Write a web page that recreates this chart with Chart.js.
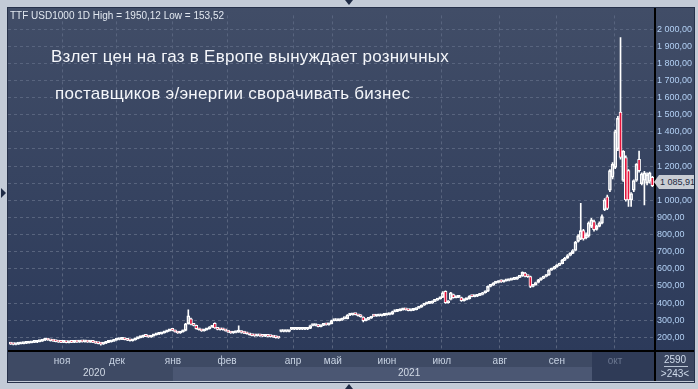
<!DOCTYPE html>
<html><head><meta charset="utf-8">
<script src="https://cdn.jsdelivr.net/npm/chart.js@4.4.1/dist/chart.umd.min.js"></script>
<style>
html,body{margin:0;padding:0;}
body{width:698px;height:389px;background:#c3cbd7;position:relative;overflow:hidden;font-family:"Liberation Sans",Arial,sans-serif;}
#frame{position:absolute;left:7px;top:7px;width:686px;height:374px;border:1px solid #26314a;}
#wrap{position:absolute;left:8px;top:8px;width:686px;height:373px;}
.t{position:absolute;white-space:pre;}
#hdr{left:10px;top:10px;font-size:10px;color:#e2e8f0;}
.title{left:51px;font-size:17px;color:#f4f6fa;letter-spacing:0.25px;}
.year{top:367px;font-size:10px;color:#d2dae6;}
#cnt{left:656px;top:354px;width:38px;text-align:center;font-size:10px;color:#d0dcec;}
#cnt2{left:656px;top:368px;width:38px;text-align:center;font-size:10px;color:#d0dcec;}
#uline{position:absolute;left:664px;top:366px;width:24px;height:1px;background:#b8c4d4;}
#plab{position:absolute;left:659px;top:175px;width:35px;height:14px;background:#c9cdd4;font-size:9px;color:#1d2a40;line-height:14px;text-align:left;padding-left:1px;box-sizing:border-box;overflow:hidden;}
#parr{position:absolute;left:654px;top:175px;width:0;height:0;border-top:7px solid transparent;border-bottom:7px solid transparent;border-right:5px solid #c9cdd4;}
.tri{position:absolute;width:0;height:0;}
</style></head>
<body>
<div id="frame"></div>
<div id="wrap"><canvas id="c" width="686" height="373"></canvas></div>
<div class="t" id="hdr">TTF USD1000 1D High = 1950,12 Low = 153,52</div>
<div class="t title" style="top:47px">Взлет цен на газ в Европе вынуждает розничных</div>
<div class="t title" style="top:84px;left:50px"> поставщиков э/энергии сворачивать бизнес</div>
<div class="t year" style="left:83px">2020</div>
<div class="t year" style="left:398px">2021</div>
<div class="t" id="cnt">2590</div>
<div id="uline"></div>
<div class="t" id="cnt2">&gt;243&lt;</div>
<div id="parr"></div>
<div class="t" id="plab">1 085,91</div>
<div class="tri" style="left:345px;top:0;border-left:4px solid transparent;border-right:4px solid transparent;border-top:5px solid #1f2b45;"></div>
<div class="tri" style="left:345px;top:384px;border-left:4px solid transparent;border-right:4px solid transparent;border-bottom:5px solid #1f2b45;"></div>
<div class="tri" style="left:1px;top:188px;border-top:5px solid transparent;border-bottom:5px solid transparent;border-left:5px solid #1f2b45;"></div>
<script>
// ---- data ----
const monthTicks = [19.4, 40.1, 61.2, 81.6, 106.5, 121.5, 141.9, 162.6, 184.5, 206.0, 227.9];
const monthLabels = ["ноя","дек","янв","фев","апр","май","июн","июл","авг","сен","окт"];
const priceTicks = [200,300,400,500,600,700,800,900,1000,1100,1200,1300,1400,1500,1600,1700,1800,1900,2000];

const opens = [
162,160,158,160,162,163,165,166,168,170,
171,175,178,183,187,184,180,178,175,172,
170,171,169,172,170,173,172,174,173,175,
172,174,170,166,163,160,165,170,174,178,
184,187,188,190,186,183,180,185,192,198,
202,210,205,202,208,215,218,221,226,232,
238,244,240,232,225,232,240,280,308,275,
270,250,244,238,244,250,259,282,255,246,
246,244,238,230,225,228,230,236,228,224,
221,215,210,208,210,208,206,208,205,204,
202,198,234,234,234,234,247,247,247,247,
247,247,247,252,269,269,272,262,270,275,
273,280,297,297,297,300,309,309,330,331,
335,332,330,318,297,305,312,328,324,326,
326,328,331,333,335,350,352,356,360,362,
360,356,358,362,370,377,388,396,398,400,
410,417,425,434,469,402,421,450,432,434,
432,414,420,425,440,438,440,445,450,460,
469,497,505,516,520,532,524,530,532,535,
538,540,550,558,575,556,554,497,506,520,
535,545,555,564,592,600,611,620,630,650,
662,678,690,707,760,775,823,780,792,848,
876,830,848,867,945,1021,1059,1135,1192,1300,
1516,1116,1250,1173,1002,1059,1116,1240,1097,1116,
1100,1110,1135];
const highs = [
164,162,162,164,165,167,168,170,172,173,
177,180,185,189,189,186,182,180,177,174,
173,173,174,174,175,175,176,176,177,177,
176,176,172,168,165,167,172,176,180,186,
189,190,193,192,188,185,187,194,200,205,
213,212,207,210,217,220,224,228,234,240,
247,246,242,234,234,242,282,360,312,280,
272,252,246,246,252,262,265,285,258,248,
248,246,240,232,230,232,267,238,230,226,
223,217,212,212,212,210,210,210,207,206,
204,200,236,236,236,236,249,249,249,249,
249,249,254,271,271,271,275,272,278,277,
283,300,300,300,303,312,312,333,334,338,
338,334,332,320,308,315,320,330,328,329,
330,334,336,338,353,355,359,363,366,364,
362,360,365,372,380,390,399,401,403,413,
420,428,437,467,472,415,462,453,437,441,
435,423,428,443,442,443,448,453,463,472,
500,508,520,524,530,535,528,534,536,540,
542,553,562,583,580,560,558,510,523,538,
548,558,567,596,604,615,624,634,655,667,
683,695,712,760,800,983,830,810,875,895,
885,855,875,915,1010,1030,1180,1220,1410,1490,
1950,1290,1260,1180,1045,1120,1215,1288,1160,1170,
1160,1165,1140];
const lows = [
158,156,156,158,161,162,163,165,167,168,
169,173,176,181,182,178,176,173,170,168,
168,167,167,168,168,170,170,171,171,170,
170,168,164,161,154,158,163,168,172,176,
182,185,186,184,181,178,178,183,190,196,
200,203,200,200,206,213,216,219,224,230,
236,238,230,222,223,230,238,276,272,266,
247,241,235,236,242,248,257,252,243,241,
241,236,228,222,223,226,228,224,221,218,
212,208,205,206,205,203,204,202,201,199,
195,193,232,232,232,232,245,245,245,245,
245,245,245,250,267,267,260,260,268,271,
271,278,295,295,295,298,307,307,327,329,
330,324,317,290,295,303,310,322,322,324,
324,326,329,331,333,348,350,354,358,358,
354,354,356,360,368,375,386,394,396,398,
408,415,423,432,398,400,418,428,430,432,
410,411,418,422,436,436,438,443,448,458,
466,494,503,514,518,520,522,528,530,533,
536,538,548,556,552,550,490,494,504,518,
532,542,552,562,590,598,608,618,628,648,
660,676,688,705,755,770,768,775,785,840,
820,825,845,862,940,945,1050,1125,1185,1290,
1240,1110,995,964,964,1050,1110,1165,1090,973,
1090,1100,1080];
const closes = [
160,158,160,162,163,165,166,168,170,171,
175,178,183,187,184,180,178,175,172,170,
171,169,172,170,173,172,174,173,175,172,
174,170,166,163,160,165,170,174,178,184,
187,188,190,186,183,180,185,192,198,202,
210,205,202,208,215,218,221,226,232,238,
244,240,232,225,232,240,278,326,275,270,
250,244,238,244,250,259,262,255,246,244,
244,238,230,225,228,230,236,228,224,221,
215,210,208,210,208,206,208,205,204,202,
198,196,234,234,234,234,247,247,247,247,
247,247,252,269,269,269,262,270,275,273,
280,297,297,297,300,309,309,330,331,335,
332,326,320,297,305,312,318,324,326,326,
328,331,333,335,350,352,356,360,362,360,
356,358,362,370,377,388,396,398,400,410,
417,425,434,460,402,412,459,432,434,438,
414,420,425,440,438,440,445,450,460,469,
497,505,516,520,526,524,530,532,535,538,
540,550,558,579,556,554,497,506,520,535,
545,555,564,592,600,611,620,630,650,662,
678,690,707,754,792,823,775,800,868,886,
829,848,867,905,1002,952,1173,1211,1402,1480,
1250,1288,1002,1002,1040,1116,1211,1173,1154,1160,
1150,1160,1086];

// ---- build ----
const bodies = closes.map((c,i)=>({x:i, y:[opens[i], c]}));
const upWicks = closes.map((c,i)=>({x:i, y:[Math.max(opens[i],c), highs[i]]}));
const loWicks = closes.map((c,i)=>({x:i, y:[lows[i], Math.min(opens[i],c)]}));
const bodyFill = closes.map((c,i)=> c < opens[i] ? '#e6143c' : 'rgba(0,0,0,0)');

function fmt(v){
  const s = v >= 1000 ? Math.floor(v/1000) + ' ' + String(v%1000).padStart(3,'0') : String(v);
  return s + ',00';
}

const bgPlugin = {
  id:'bg',
  beforeDraw(chart){
    const ctx = chart.ctx, a = chart.chartArea;
    ctx.save();
    const g = ctx.createLinearGradient(0,0,0,a.bottom);
    g.addColorStop(0,'#414d67');
    g.addColorStop(1,'#2c3a5a');
    ctx.fillStyle = g;
    ctx.fillRect(0,0,686,a.bottom);
    const xs = chart.scales.x;
    const xJan = xs.getPixelForValue(61.2);
    const xOctL = 584;
    ctx.fillStyle = '#3e4a64';
    ctx.fillRect(0,a.bottom,a.right,30);
    ctx.fillStyle = '#4b5773';
    ctx.fillRect(xJan,a.bottom+16,xOctL-xJan,14);
    ctx.fillStyle = '#2f3b57';
    ctx.fillRect(xOctL,a.bottom,a.right-xOctL,30);
    ctx.fillStyle = '#3a4660';
    ctx.fillRect(a.right,a.bottom,686-a.right,30);
    ctx.restore();
  },
  afterDraw(chart){
    const ctx = chart.ctx, a = chart.chartArea;
    ctx.save();
    ctx.fillStyle = '#000';
    ctx.fillRect(a.right-1,0,2,373);
    ctx.fillRect(0,a.bottom-1,686,2);
    ctx.restore();
  }
};

new Chart(document.getElementById('c'), {
  type:'bar',
  data:{
    datasets:[
      {data:bodies, backgroundColor:bodyFill, borderColor:'#ffffff', borderWidth:1, borderSkipped:false, minBarLength:2, barThickness:3, grouped:false},
      {data:upWicks, backgroundColor:'#ffffff', borderWidth:0, barThickness:1, grouped:false},
      {data:loWicks, backgroundColor:'#ffffff', borderWidth:0, barThickness:1, grouped:false}
    ]
  },
  options:{
    responsive:false, animation:false,
    layout:{padding:0},
    plugins:{legend:{display:false}, tooltip:{enabled:false}, title:{display:false}},
    scales:{
      x:{
        type:'linear', min:-1, max:243, position:'bottom', offset:false,
        afterBuildTicks:s=>{ s.ticks = monthTicks.map(v=>({value:v})); },
        afterFit:s=>{ s.height = 30; },
        grid:{color:'#58647e', drawTicks:false, lineWidth:1, offset:false},
        border:{display:false, dash:[3,3]},
        ticks:{autoSkip:false, maxRotation:0, padding:4, font:{size:10, family:'"Liberation Sans", Arial'},
          color:(c)=> c.index === 10 ? '#6b7790' : '#c8d3e3',
          callback:(v,i)=>monthLabels[i]}
      },
      y:{
        type:'linear', position:'right', min:120, max:2080,
        afterBuildTicks:s=>{ s.ticks = priceTicks.map(v=>({value:v})); },
        afterFit:s=>{ s.width = 39; },
        grid:{color:'#58647e', drawTicks:false, lineWidth:1},
        border:{display:false, dash:[3,3]},
        ticks:{autoSkip:false, padding:2, font:{size:9, family:'"Liberation Sans", Arial'}, color:'#b2d0f4',
          callback:(v)=>fmt(v)}
      }
    }
  },
  plugins:[bgPlugin]
});
</script>
</body></html>
